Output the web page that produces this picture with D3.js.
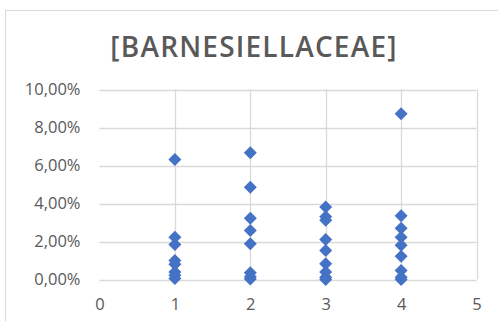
<!DOCTYPE html>
<html>
<head>
<meta charset="utf-8">
<script src="https://cdn.jsdelivr.net/npm/d3@7"></script>
<style>
  html, body { margin: 0; padding: 0; background: #fff; }
  svg { display: block; }
</style>
</head>
<body>
<svg id="chart" width="498" height="321"></svg>
<script>
// Relative abundance per group (fractions)
const groups = [1, 2, 3, 4];
const group1 = [0.0632, 0.0222, 0.0184, 0.0100, 0.0080, 0.0040, 0.0022, 0.0005];
const group2 = [0.0667, 0.0486, 0.0323, 0.0258, 0.0188, 0.0035, 0.0015, 0.0002];
const group3 = [0.0381, 0.0330, 0.0312, 0.0210, 0.0153, 0.0083, 0.0040, 0.0012, 0.0000];
const group4 = [0.0872, 0.0335, 0.0270, 0.0223, 0.0180, 0.0123, 0.0047, 0.0012, 0.0000];
const xTicks = [0, 1, 2, 3, 4, 5];
const yTicks = [0, 0.02, 0.04, 0.06, 0.08, 0.10];
const title = "[BARNESIELLACEAE]";

const series = [group1, group2, group3, group4];
const points = [];
series.forEach((vals, i) => vals.forEach(v => points.push({ x: groups[i], y: v })));

const svg = d3.select("#chart");
const textColor = "#595959";
const gridColor = "#d9d9d9";
const font = "'Open Sans', sans-serif";

// chart frame
svg.append("rect")
  .attr("x", 5.5).attr("y", 10.5)
  .attr("width", 520).attr("height", 340)
  .attr("fill", "#fff")
  .attr("stroke", gridColor).attr("stroke-width", 1);

const x = d3.scaleLinear().domain([0, 5]).range([99.5, 476.5]);
const y = d3.scaleLinear().domain([0, 0.10]).range([279.5, 89.5]);

// gridlines
const grid = svg.append("g");
grid.selectAll("line.h").data(yTicks).join("line")
  .attr("class", "h")
  .attr("x1", x(0)).attr("x2", x(5))
  .attr("y1", d => Math.round(y(d)) + 0.5).attr("y2", d => Math.round(y(d)) + 0.5)
  .attr("stroke", gridColor).attr("stroke-width", 1.3);
grid.selectAll("line.v").data(xTicks.slice(1)).join("line")
  .attr("class", "v")
  .attr("y1", y(0)).attr("y2", y(0.10))
  .attr("x1", d => Math.round(x(d)) + 0.5).attr("x2", d => Math.round(x(d)) + 0.5)
  .attr("stroke", gridColor).attr("stroke-width", 1.3);

// axes (labels only)
const fmtPct = d => (d * 100).toFixed(2).replace(".", ",") + "%";
const yAxis = svg.append("g")
  .attr("transform", `translate(${x(0)},0)`)
  .call(d3.axisLeft(y).tickValues(yTicks).tickFormat(fmtPct).tickSize(0).tickPadding(19));
const xAxis = svg.append("g")
  .attr("transform", `translate(0,${y(0)})`)
  .call(d3.axisBottom(x).tickValues(xTicks).tickFormat(d3.format("d")).tickSize(0).tickPadding(19));
[yAxis, xAxis].forEach(a => {
  a.select(".domain").remove();
  a.selectAll("text")
    .attr("fill", textColor)
    .style("font-family", font)
    .style("font-size", "16.5px");
});

// markers
const diamond = "M0,-6.5L6.5,0L0,6.5L-6.5,0Z";
svg.append("g").selectAll("path").data(points).join("path")
  .attr("d", diamond)
  .attr("transform", d => `translate(${x(d.x)},${y(d.y)})`)
  .attr("fill", "#4472C4");

// title
svg.append("text")
  .attr("x", 254).attr("y", 57)
  .attr("text-anchor", "middle")
  .attr("fill", textColor)
  .style("font-family", font)
  .style("font-weight", 600)
  .style("font-size", "28px")
  .style("letter-spacing", "1.2px")
  .text(title);
</script>
</body>
</html>
